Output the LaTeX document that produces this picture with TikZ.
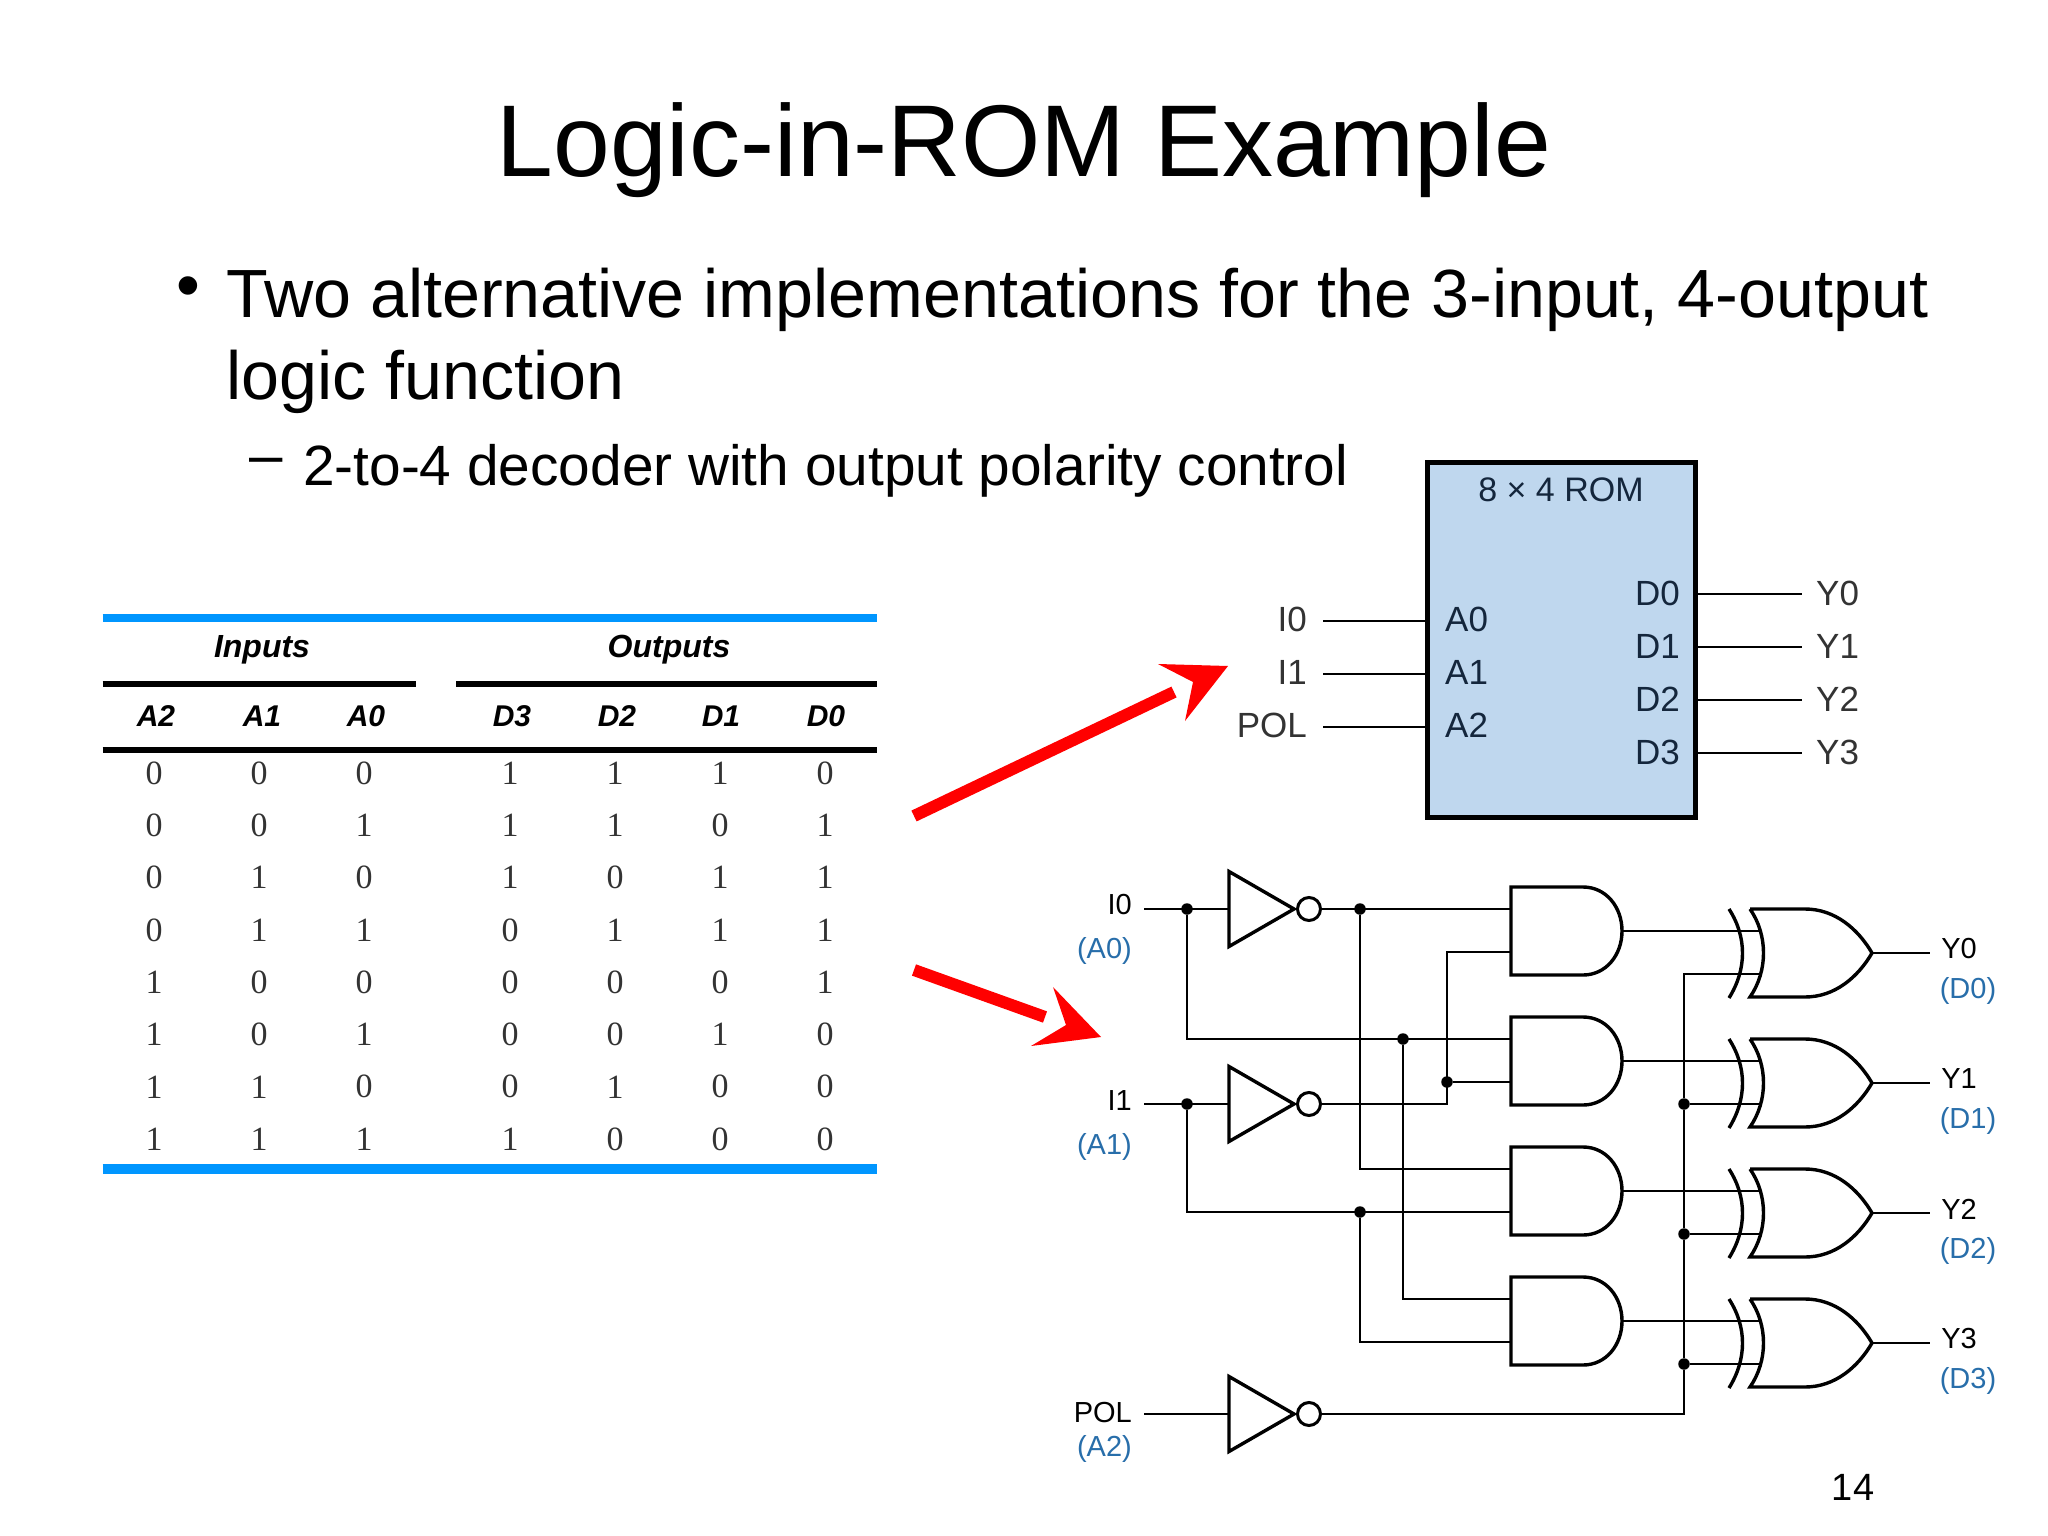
\documentclass[tikz,border=0pt]{standalone}
\usepackage{fontspec}
\usetikzlibrary{arrows.meta}
\setmainfont{Liberation Sans}
\newfontfamily\digitfont{Liberation Serif}
\definecolor{rulecol}{RGB}{0,150,255}
\definecolor{romfill}{RGB}{191,215,238}
\definecolor{romtext}{RGB}{20,38,60}
\definecolor{labcol}{RGB}{40,110,170}
\def\fsz#1{\fontsize{#1}{#1}\selectfont}
\tikzset{
	wire/.style={line width=2pt},
	gateline/.style={line width=3.4pt,line join=miter},
	bubble/.style={circle,draw,line width=3pt,minimum size=23pt,inner sep=0pt},
	jdot/.style={circle,fill,minimum size=11.5pt,inner sep=0pt},
	sig/.style={inner sep=0pt,font=\fsz{29}},
	romlab/.style={inner sep=0pt,font=\fsz{35}},
	head/.style={inner sep=0pt,font=\fsz{30}\bfseries\itshape},
	bit/.style={inner sep=0pt,text=black!80,font=\digitfont\fsz{34}},
	redshaft/.style={draw=red,line width=12pt}
}
\begin{document}
\begin{tikzpicture}[x=1pt,y=-1pt]
	\useasboundingbox (0,0) rectangle (2048,1536);
	\fill[white] (0,0) rectangle (2048,1536);

	% Title and bullet text.
	\node[anchor=base,inner sep=0pt,font=\fsz{102}] (title) at (1024,176) {Logic-in-ROM Example};
	\node[anchor=base,inner sep=0pt,font=\fsz{68}] (bullet) at (188,308) {\textbullet};
	\node[anchor=base west,inner sep=0pt,font=\fsz{68.2}] (line1) at (226,317) {Two alternative implementations for the 3-input, 4-output};
	\node[anchor=base west,inner sep=0pt,font=\fsz{68.2}] (line2) at (226,399) {logic function};
	\node[anchor=base,inner sep=0pt,font=\fsz{60}] (dash) at (266,475) {--};
	\node[anchor=base west,inner sep=0pt,font=\fsz{56.8}] (line3) at (303,485) {2-to-4 decoder with output polarity control};
	\node[anchor=center,inner sep=0pt,font=\fsz{38}] (page) at (1853,1487) {14};

	% Truth table rules.
	\draw[rulecol,line width=7.5pt] (102.5,618) -- (877,618);
	\draw[line width=5.5pt] (102.5,684) -- (416,684);
	\draw[line width=5.5pt] (456,684) -- (877,684);
	\draw[line width=5.5pt] (102.5,750) -- (877,750);
	\draw[rulecol,line width=10pt] (102.5,1169) -- (877,1169);

	% Truth table headers and rows.
	\node[head,font=\fsz{32}\bfseries\itshape] (inputs) at (262,650) {Inputs};
	\node[head,font=\fsz{32}\bfseries\itshape] (outputs) at (669,650) {Outputs};
	\foreach \name/\xx in {A2/156,A1/262,A0/366,D3/512,D2/617,D1/721,D0/826}
		\node[head] (h\name) at (\xx,716) {\name};
	\foreach \a/\b/\c/\d/\e/\f/\g [count=\r from 0] in {0/0/0/1/1/1/0,0/0/1/1/1/0/1,0/1/0/1/0/1/1,0/1/1/0/1/1/1,1/0/0/0/0/0/1,1/0/1/0/0/1/0,1/1/0/0/1/0/0,1/1/1/1/0/0/0}{
		\pgfmathsetmacro\yy{773+52.3*\r}
		\node[bit] (t\r a) at (154,\yy) {\a};
		\node[bit] (t\r b) at (259,\yy) {\b};
		\node[bit] (t\r c) at (364,\yy) {\c};
		\node[bit] (t\r d) at (510,\yy) {\d};
		\node[bit] (t\r e) at (615,\yy) {\e};
		\node[bit] (t\r f) at (720,\yy) {\f};
		\node[bit] (t\r g) at (825,\yy) {\g};
	}

	% Red arrows from the table to the two circuits.
	\coordinate (up0) at (914,816);
	\coordinate (up1) at (1174,692);
	\coordinate (dn0) at (914,970);
	\coordinate (dn1) at (1045,1017);
	\draw[redshaft] (up0) -- (up1);
	\draw[redshaft] (dn0) -- (dn1);
	\fill[red] (1228,666) -- (1158,664) -- (1193,682) -- (1185,721) -- cycle;
	\fill[red] (1101,1037) -- (1053,987) -- (1066,1025) -- (1031,1046) -- cycle;

	% ROM block.
	\node[draw,fill=romfill,line width=4.5pt,minimum width=268pt,minimum height=355pt,inner sep=0pt] (rom) at (1561.5,640) {};
	\node[romlab,text=romtext,font=\fsz{34}] (romname) at (1561,490) {8 × 4 ROM};
	\foreach \n/\yy/\lab in {0/621/I0,1/674/I1,2/727/POL}{
		\coordinate (ri\n) at (1323,\yy);
		\coordinate (rp\n) at (1427,\yy);
		\draw[line width=2.4pt] (ri\n) -- (rp\n);
		\node[romlab,anchor=east,text=black!80] (ril\n) at (1307,\yy-2) {\lab};
		\node[romlab,anchor=west,text=romtext] (rpl\n) at (1445,\yy-2) {A\n};
	}
	\foreach \n/\yy in {0/594,1/647,2/700,3/753}{
		\coordinate (ro\n) at (1696,\yy);
		\coordinate (roe\n) at (1802,\yy);
		\draw[line width=2.4pt] (ro\n) -- (roe\n);
		\node[romlab,anchor=west,text=romtext] (rol\n) at (1635,\yy-1) {D\n};
		\node[romlab,anchor=west,text=black!80] (ry\n) at (1816,\yy-1) {Y\n};
	}

	% Inverters, one per input.
	\foreach \n/\yy in {a/909,b/1104,c/1414}{
		\draw[gateline] (1229,\yy-37.5) -- (1294,\yy) -- (1229,\yy+37.5) -- cycle;
		\node[bubble] (inv\n) at (1309,\yy) {};
		\coordinate (in\n) at (1144,\yy);
		\coordinate (tri\n) at (1229,\yy);
	}
	\node[jdot] (d0) at (1187,909) {};
	\node[jdot] (d1) at (1187,1104) {};
	\draw[wire] (ina) -- (tria);
	\draw[wire] (inb) -- (trib);
	\draw[wire] (inc) -- (tric);
	\node[sig,anchor=east] (li0) at (1132,905) {I0};
	\node[sig,anchor=east,text=labcol] (la0) at (1132,951) {(A0)};
	\node[sig,anchor=east] (li1) at (1132,1101) {I1};
	\node[sig,anchor=east,text=labcol] (la1) at (1132,1147) {(A1)};
	\node[sig,anchor=east] (lpol) at (1132,1413) {POL};
	\node[sig,anchor=east,text=labcol] (la2) at (1132,1449) {(A2)};

	% AND and XOR gates, one pair per output.
	\foreach \n/\ya/\yx in {0/887/909,1/1017/1039,2/1147/1169,3/1277/1299}{
		\draw[gateline] (1583,\ya) -- (1511,\ya) -- (1511,\ya+88) -- (1583,\ya+88)
			.. controls (1606,\ya+88) and (1622,\ya+68) .. (1622,\ya+44)
			.. controls (1622,\ya+20) and (1606,\ya) .. (1583,\ya);
		\coordinate (and\n a) at (1511,\ya+22);
		\coordinate (and\n b) at (1511,\ya+65);
		\coordinate (and\n y) at (1622,\ya+44);
		\draw[gateline] (1750,\yx) -- (1805,\yx)
			.. controls (1835,\yx) and (1858,\yx+20) .. (1872,\yx+44)
			.. controls (1858,\yx+68) and (1835,\yx+88) .. (1805,\yx+88) -- (1750,\yx+88)
			.. controls (1768,\yx+62) and (1768,\yx+26) .. (1750,\yx);
		\draw[gateline] (1729,\yx) .. controls (1747,\yx+28) and (1747,\yx+60) .. (1729,\yx+89);
		\coordinate (xor\n a) at (1759,\yx+22);
		\coordinate (xor\n b) at (1759,\yx+65);
		\coordinate (xor\n y) at (1872,\yx+44);
		\coordinate (out\n) at (1930,\yx+44);
		\draw[wire] (and\n y) -- (and\n y -| xor\n a);
		\draw[wire] (xor\n y) -- (out\n);
		\node[sig] (ly\n) at (1959,\yx+40) {Y\n};
		\node[sig,text=labcol] (ld\n) at (1968,\yx+82) {(D\n)};
	}

	% Wiring of the decoder.
	\node[jdot] (d2) at (1360,909) {};
	\node[jdot] (d3) at (1403,1039) {};
	\node[jdot] (d4) at (1447,1082) {};
	\node[jdot] (d5) at (1360,1212) {};
	\draw[wire] (inva) -- (and0a);
	\draw[wire] (d2) |- (and2a);
	\draw[wire] (d0) |- (and1a);
	\draw[wire] (d3) |- (and3a);
	\draw[wire] (invb) -| (and0b -| d4) |- (and0b);
	\draw[wire] (d4) -- (and1b);
	\draw[wire] (d1) |- (and2b);
	\draw[wire] (d5) |- (and3b);

	% Polarity line to the XOR gates.
	\node[jdot] (d6) at (1684,1104) {};
	\node[jdot] (d7) at (1684,1234) {};
	\node[jdot] (d8) at (1684,1364) {};
	\draw[wire] (invc) -| (d8);
	\draw[wire] (d8) -- (d7);
	\draw[wire] (d7) -- (d6);
	\draw[wire] (d6) |- (xor0b);
	\draw[wire] (d6) -- (xor1b);
	\draw[wire] (d7) -- (xor2b);
	\draw[wire] (d8) -- (xor3b);
\end{tikzpicture}
\end{document}
